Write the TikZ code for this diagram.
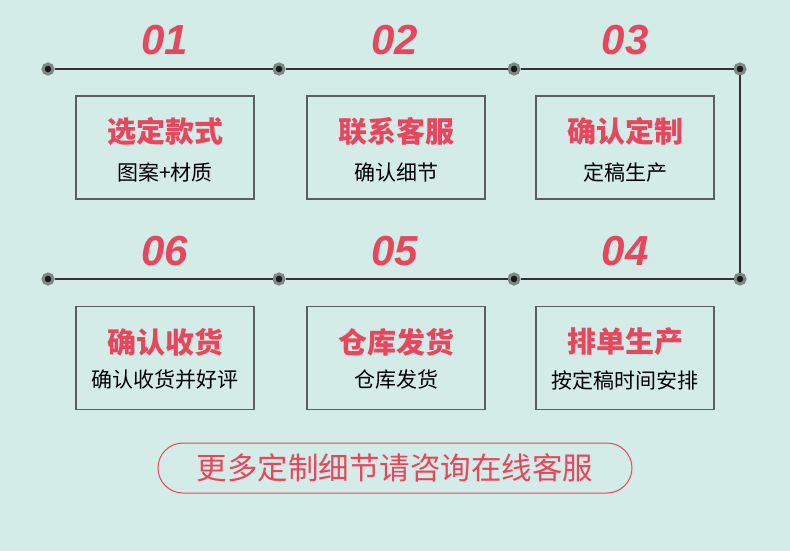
\documentclass[tikz,border=0pt]{standalone}
\usepackage{fontspec}
\setmainfont{Liberation Sans}
\newfontfamily\cjk{Noto Sans CJK SC}
\usetikzlibrary{positioning}
\definecolor{mint}{RGB}{211,236,231}
\definecolor{rosered}{RGB}{232,70,92}
\definecolor{linegray}{RGB}{51,51,51}
\definecolor{boxgray}{RGB}{90,94,93}
\definecolor{dotgray}{RGB}{125,136,133}

\begin{document}
\begin{tikzpicture}[x=1pt,y=-1pt,
  stepbox/.style={draw=boxgray,line width=1.1pt,minimum width=178pt,minimum height=103pt,inner sep=0pt},
  ttl/.style={font=\cjk\bfseries\fontsize{29}{31}\selectfont,text=rosered,inner sep=0pt},
  sub/.style={font=\cjk\fontsize{21}{23}\selectfont,text=black,inner sep=0pt},
  num/.style={font=\bfseries\itshape\fontsize{42}{44}\selectfont,text=rosered,inner sep=0pt},
  dot/.style={circle,fill=black!90,draw=dotgray,line width=3pt,minimum size=10pt,inner sep=0pt},
  link/.style={draw=linegray,line width=2pt},
  pill/.style={draw=rosered,line width=1pt,rounded corners=25pt,minimum width=474pt,minimum height=50pt,font=\cjk\fontsize{30.5}{32}\selectfont,text=rosered}
]
\fill[mint] (0,0) rectangle (790,551);
\useasboundingbox (0,0) rectangle (790,551);

% dots on the path
\node[dot] (d1) at (48,69) {};
\node[dot] (d2) at (279,69) {};
\node[dot] (d3) at (514,69) {};
\node[dot] (d4) at (740,69) {};
\node[dot] (e1) at (48,279) {};
\node[dot] (e2) at (279,279) {};
\node[dot] (e3) at (514,279) {};
\node[dot] (e4) at (740,279) {};
\draw[link] (d1) -- (d2) -- (d3) -- (d4) -- (e4) -- (e3) -- (e2) -- (e1);

% step numbers
\node[num] (n1) at (165,40) {01};
\node[num] (n2) at (395,40) {02};
\node[num] (n3) at (625,40) {03};
\node[num] (n6) at (165,251) {06};
\node[num] (n5) at (395,251) {05};
\node[num] (n4) at (625,251) {04};

% first row
\node[stepbox] (b1) at (165,147.5) {};
\node[ttl] (t1) at ([yshift=16pt]b1.center) {选定款式};
\node[sub] (s1) at ([yshift=-25pt]b1.center) {图案+材质};
\node[stepbox] (b2) at (396,147.5) {};
\node[ttl] (t2) at ([yshift=16pt]b2.center) {联系客服};
\node[sub] (s2) at ([yshift=-25pt]b2.center) {确认细节};
\node[stepbox] (b3) at (625,147.5) {};
\node[ttl] (t3) at ([yshift=16pt]b3.center) {确认定制};
\node[sub] (s3) at ([yshift=-25pt]b3.center) {定稿生产};

% second row
\node[stepbox] (b6) at (165,358) {};
\node[ttl] (t6) at ([yshift=16pt]b6.center) {确认收货};
\node[sub] (s6) at ([yshift=-22pt]b6.center) {确认收货并好评};
\node[stepbox] (b5) at (396,358) {};
\node[ttl] (t5) at ([yshift=16pt]b5.center) {仓库发货};
\node[sub] (s5) at ([yshift=-22pt]b5.center) {仓库发货};
\node[stepbox] (b4) at (625,358) {};
\node[ttl] (t4) at ([yshift=16pt]b4.center) {排单生产};
\node[sub] (s4) at ([yshift=-22pt]b4.center) {按定稿时间安排};

\node[pill] (more) at (395,468) {更多定制细节请咨询在线客服};
\end{tikzpicture}
\end{document}
